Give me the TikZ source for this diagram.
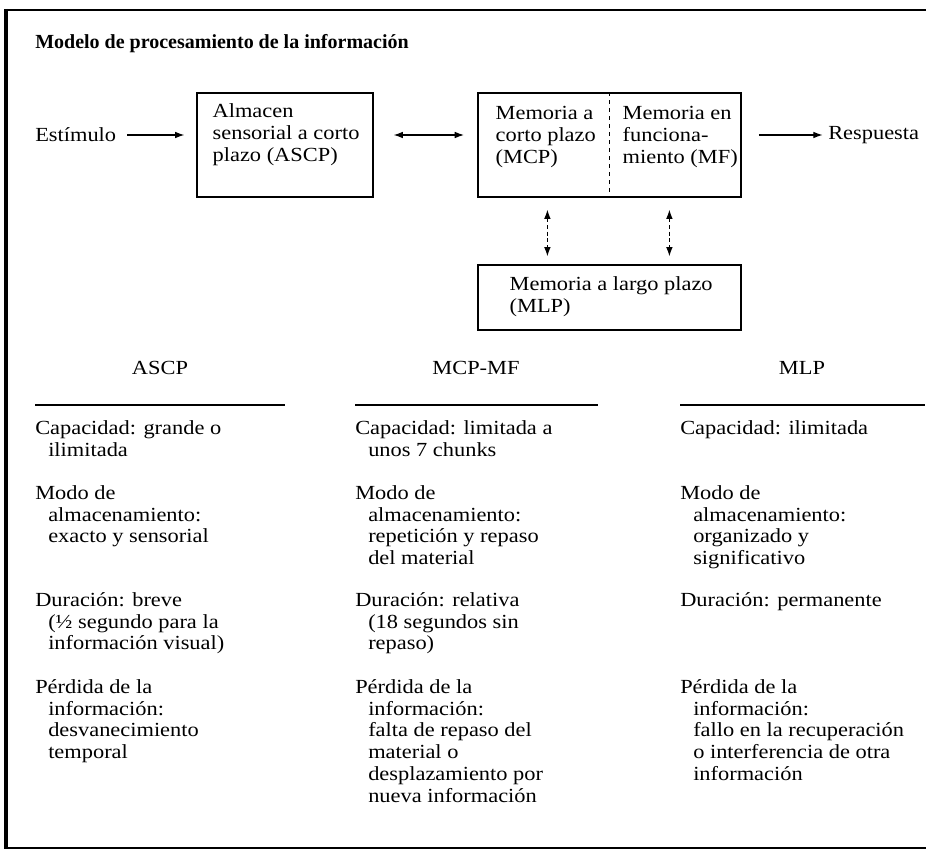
\documentclass[tikz,border=0pt]{standalone}
\usepackage{fontspec}
\setmainfont{Liberation Serif}[FakeStretch=1.12]
\newfontfamily\titlefont{Liberation Serif}
\usetikzlibrary{arrows.meta}

\newcommand\indline{\hspace*{9.75pt}}

\begin{document}
\begin{tikzpicture}[x=0.75pt,y=-0.75pt,
  every node/.style={inner sep=0pt,font=\fontsize{15}{16.4}\selectfont},
  titletext/.style={anchor=base west,font=\titlefont\fontsize{15}{18}\selectfont\bfseries},
  memorybox/.style={draw,line width=0.9pt,minimum height=78pt},
  boxtext/.style={anchor=north west,align=left},
  coltext/.style={anchor=north west,align=left},
  colhead/.style={anchor=base},
  flow/.style={line width=0.9pt,-{Latex[length=7pt,width=5pt]}},
  twoway/.style={line width=0.9pt,{Latex[length=7pt,width=5pt]}-{Latex[length=7pt,width=5pt]}},
  frame/.style={line width=2pt}]
  \useasboundingbox (0,0) rectangle (926,867);

  % frame
  \draw[frame] (5,10) -- (926,10);
  \draw[frame,line width=2.4pt] (6,9) -- (6,849);
  \draw[frame,line width=0.9pt] (6,848) -- (926,848);

  \node[titletext] (title) at (35,49) {Modelo de procesamiento de la información};

  % top row
  \node[anchor=west] (estimulo) at (35,135) {Estímulo};
  \node[memorybox,minimum width=132pt] (ascp) at (285,145) {};
  \node[memorybox,minimum width=197.25pt] (mcp) at (609.5,145) {};
  \node[memorybox,minimum width=197.25pt,minimum height=48.75pt] (mlp) at (609.5,297.5) {};
  \node[anchor=west] (respuesta) at (828,135) {Respuesta};

  \node[boxtext] (ascptext) at ([shift={(16,11)}]ascp.north west)
     {Almacen\\sensorial a corto\\plazo (ASCP)};
  \node[boxtext] (mcptext) at ([shift={(18,14)}]mcp.north west)
     {Memoria a\\corto plazo\\(MCP)};
  \node[boxtext] (mftext) at ([shift={(145,14)}]mcp.north west)
     {Memoria en\\funciona-\\miento (MF)};
  \node[boxtext] (mlptext) at ([shift={(32,12)}]mlp.north west)
     {Memoria a largo plazo\\(MLP)};

  \draw[dashed,line width=0.7pt] ([xshift=99pt]mcp.north west) -- ([xshift=99pt]mcp.south west);

  \draw[flow,shorten <=8pt,shorten >=9pt] (estimulo.east) -- (estimulo.east -| ascp.west);
  \draw[twoway,shorten <=15pt,shorten >=10pt] (ascp.east |- estimulo) -- (mcp.west |- estimulo);
  \draw[flow,shorten <=13pt,shorten >=4pt] (mcp.east |- respuesta) -- (respuesta.west);
  \draw[twoway,densely dashed,shorten <=9pt,shorten >=6pt]
     ([xshift=52.5pt]mcp.south west) -- ([xshift=52.5pt]mlp.north west);
  \draw[twoway,densely dashed,shorten <=9pt,shorten >=6pt]
     ([xshift=144pt]mcp.south west) -- ([xshift=144pt]mlp.north west);

  % columns
  \node[colhead] (hascp) at (160,374) {ASCP};
  \node[colhead] (hmcp) at (476,374) {MCP-MF};
  \node[colhead] (hmlp) at (802,374) {MLP};
  \draw[line width=0.8pt] (35,405) -- (285,405);
  \draw[line width=0.8pt] (355,405) -- (598,405);
  \draw[line width=0.8pt] (680,405) -- (925,405);

  \node[coltext] (ascpcap) at (35,420) {Capacidad: grande o\\\indline ilimitada};
  \node[coltext] (ascpmodo) at (35,485) {Modo de\\\indline almacenamiento:\\\indline exacto y sensorial};
  \node[coltext] (ascpdur) at (35,592) {Duración: breve\\\indline (½ segundo para la\\\indline información visual)};
  \node[coltext] (ascpperd) at (35,679) {Pérdida de la\\\indline información:\\\indline desvanecimiento\\\indline temporal};

  \node[coltext] (mcpcap) at (355,420) {Capacidad: limitada a\\\indline unos 7 chunks};
  \node[coltext] (mcpmodo) at (355,485) {Modo de\\\indline almacenamiento:\\\indline repetición y repaso\\\indline del material};
  \node[coltext] (mcpdur) at (355,592) {Duración: relativa\\\indline (18 segundos sin\\\indline repaso)};
  \node[coltext] (mcpperd) at (355,679) {Pérdida de la\\\indline información:\\\indline falta de repaso del\\\indline material o\\\indline desplazamiento por\\\indline nueva información};

  \node[coltext] (mlpcap) at (680,420) {Capacidad: ilimitada};
  \node[coltext] (mlpmodo) at (680,485) {Modo de\\\indline almacenamiento:\\\indline organizado y\\\indline significativo};
  \node[coltext] (mlpdur) at (680,592) {Duración: permanente};
  \node[coltext] (mlpperd) at (680,679) {Pérdida de la\\\indline información:\\\indline fallo en la recuperación\\\indline o interferencia de otra\\\indline información};
\end{tikzpicture}
\end{document}
